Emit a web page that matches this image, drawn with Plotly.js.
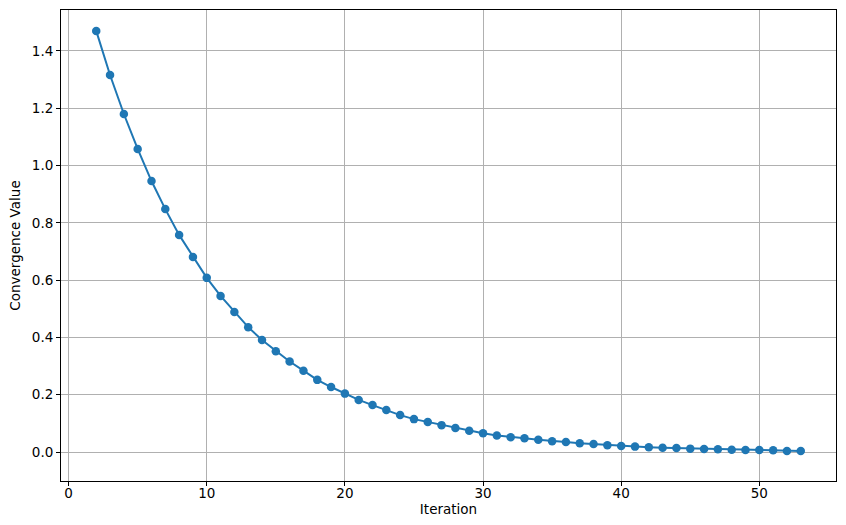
<!DOCTYPE html>
<html>
<head>
<meta charset="utf-8">
<script src="https://cdn.plot.ly/plotly-3.0.1.min.js"></script>
<style>
  body { margin: 0; background: #fff; }
  #plot { width: 846px; height: 525px; }
</style>
</head>
<body>
<div id="plot"></div>
<script>
// iterations 2..53, values
const iterations = [];
for (let i = 2; i <= 53; i++) iterations.push(i);

const convergence = [
  1.470, 1.316, 1.180, 1.058, 0.946, 0.848, 0.758, 0.681, 0.608, 0.545,
  0.489, 0.436, 0.391, 0.352, 0.316, 0.284, 0.252, 0.227, 0.204, 0.182,
  0.164, 0.147, 0.129, 0.115, 0.105, 0.094, 0.084, 0.074, 0.066, 0.058,
  0.052, 0.048, 0.043, 0.038, 0.035, 0.031, 0.028, 0.024, 0.021, 0.019,
  0.017, 0.015, 0.014, 0.012, 0.011, 0.010, 0.008, 0.007, 0.007, 0.006,
  0.004, 0.004
];

const xTicks = [0, 10, 20, 30, 40, 50];
const yTicks = [0.0, 0.2, 0.4, 0.6, 0.8, 1.0, 1.2, 1.4];

const data = [{
  x: iterations,
  y: convergence,
  mode: 'lines+markers',
  line: { color: '#1f77b4', width: 2 },
  marker: { color: '#1f77b4', size: 8.5 },
  hoverinfo: 'x+y'
}];

const textFont = { family: 'DejaVu Sans', size: 13.5, color: 'black' };

const axisCommon = {
  showline: true,
  mirror: true,
  linecolor: 'black',
  linewidth: 1,
  showgrid: true,
  gridcolor: '#b0b0b0',
  gridwidth: 1,
  zeroline: false,
  ticks: 'outside',
  ticklen: 4,
  tickwidth: 1,
  tickcolor: 'black',
  tickfont: textFont
};

const layout = {
  width: 846,
  height: 525,
  margin: { l: 61, r: 10, t: 10, b: 44 },
  paper_bgcolor: 'white',
  plot_bgcolor: 'white',
  showlegend: false,
  xaxis: Object.assign({}, axisCommon, {
    range: [-0.55, 55.55],
    tickmode: 'array',
    tickvals: xTicks,
    ticktext: xTicks.map(String),
    ticklabelstandoff: -4,
    title: { text: 'Iteration', font: textFont, standoff: 0 }
  }),
  yaxis: Object.assign({}, axisCommon, {
    range: [-0.101, 1.543],
    tickmode: 'array',
    tickvals: yTicks,
    ticktext: yTicks.map(v => v.toFixed(1)),
    title: { text: 'Convergence Value', font: textFont, standoff: 8 }
  })
};

Plotly.newPlot('plot', data, layout, { displayModeBar: false, staticPlot: true });
</script>
</body>
</html>
